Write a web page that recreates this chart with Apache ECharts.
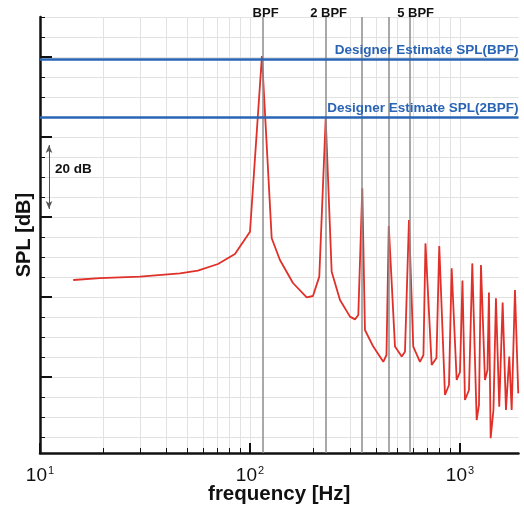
<!DOCTYPE html>
<html>
<head>
<meta charset="utf-8">
<script src="https://cdn.jsdelivr.net/npm/echarts@6/dist/echarts.min.js"></script>
<style>
  html, body { margin: 0; padding: 0; background: #fff; }
  #chart { width: 524px; height: 508px; }
</style>
</head>
<body>
<div id="chart"></div>
<script>
// spectrum: frequency [Hz] and SPL [dB]
const freqHz = [14.4, 19.3, 29.9, 46.4, 56.5, 70.4, 84.8, 100, 114, 126.9, 138.9, 160.2, 186.2, 199.5, 213.8,
  229.4, 244.9, 268.3, 299.4, 316.2, 328, 342.6, 352.8, 386.5, 431.3, 446.7, 458.1, 490.4, 527.8, 547.2,
  571.6, 599.2, 645, 670, 685, 733.3, 772.7, 796.9, 848.5, 886.5, 912.9, 964.5, 1000, 1027.8, 1056.4,
  1103.9, 1144.6, 1201, 1231.7, 1258.9, 1315.3, 1352, 1374, 1400, 1443.6, 1483.6, 1538.4, 1596.9,
  1655.8, 1717.1, 1762.9, 1827.8, 1895];
const splDb = [84.25, 84.7, 85.1, 85.9, 86.6, 88.25, 90.75, 96.3, 140.25, 94.7, 89.25, 83.5, 79.9, 80.25, 85.1,
  124.7, 86.3, 79.25, 75.1, 74.4, 75.5, 107.2, 71.75, 67.6, 63.8, 65.5, 97.75, 67.6, 65.1, 66.3,
  99.25, 67.6, 63.8, 65.5, 93.4, 63.0, 64.75, 92.75, 55.5, 58, 87.2, 59.25, 61.25, 84.1, 54.25,
  56.75, 88.4, 49.25, 53, 88, 59.25, 61.75, 81.1, 44.7, 51.75, 79.7, 52.6, 78.6, 51.75,
  65.1, 51.75, 81.75, 55.9];

const bpfHz = 114;
const harmonicOrders = [1, 2, 3, 4, 5];
const harmonicLabels = ['BPF', '2 BPF', '', '', '5 BPF'];
const designerDb = [139.5, 125];
const designerLabels = ['Designer Estimate SPL(BPF)', 'Designer Estimate SPL(2BPF)'];

const xMinHz = 10, xMaxHz = 1900;
const decadeHz = [10, 100, 1000];
const gridHz = [20, 30, 40, 50, 60, 70, 80, 90, 100, 200, 300, 400, 500, 600, 700, 800, 900, 1000];
const yMin = 41, yMax = 150;
const majorDb = [60, 80, 100, 120, 140];
const minorDb = [45, 50, 55, 60, 65, 70, 75, 80, 85, 90, 95, 100, 105, 110, 115, 120, 125, 130, 135, 140, 145, 150];

// 20 dB scale arrow
const arrowHz = 11.04;
const arrowDb = [118, 102];
const arrowTextHz = 11.16, arrowTextDb = 112;

const lg = Math.log10;
const font = '"Liberation Sans", Arial, Helvetica, sans-serif';
const ink = '#111';
const blue = '#2a64b4';
const red = '#e0302a';
const gridColor = '#e2e2e2';

const chart = echarts.init(document.getElementById('chart'));

const xBase = { type: 'value', min: lg(xMinHz), max: lg(xMaxHz), position: 'bottom' };
const yBase = { type: 'value', min: yMin, max: yMax, position: 'left' };

chart.setOption({
  animation: false,
  grid: { left: 40, right: 5.5, top: 17, bottom: 55, outerBoundsMode: 'none', containLabel: false },
  xAxis: [
    Object.assign({}, xBase, {
      axisLine: { show: true, onZero: false, lineStyle: { color: ink, width: 2.5 } },
      axisTick: { show: true, inside: true, length: 10, customValues: decadeHz.map(lg),
        lineStyle: { color: ink, width: 2 } },
      axisLabel: {
        customValues: decadeHz.map(lg),
        margin: 10,
        formatter: v => '{b|10}{s|' + Math.round(v) + '}',
        rich: {
          b: { fontSize: 19, fontFamily: font, color: ink, lineHeight: 22, verticalAlign: 'bottom' },
          s: { fontSize: 11, fontFamily: font, color: ink, lineHeight: 22, verticalAlign: 'top', padding: [2, 0, 0, 1] }
        }
      },
      splitLine: { show: false },
      name: 'frequency [Hz]',
      nameLocation: 'middle',
      nameGap: 31,
      nameMoveOverlap: false,
      nameTextStyle: { fontWeight: 'bold', fontSize: 20.5, color: ink, fontFamily: font }
    }),
    Object.assign({}, xBase, {
      axisLine: { show: false, onZero: false },
      axisTick: { show: true, inside: true, length: 5, customValues: gridHz.map(lg),
        lineStyle: { color: ink, width: 1 } },
      axisLabel: { show: false },
      splitLine: { show: true, lineStyle: { color: gridColor, width: 1 } }
    })
  ],
  yAxis: [
    Object.assign({}, yBase, {
      axisLine: { show: true, onZero: false, lineStyle: { color: ink, width: 2.5 } },
      axisTick: { show: true, inside: true, length: 12, customValues: majorDb,
        lineStyle: { color: ink, width: 2 } },
      axisLabel: { show: false },
      splitLine: { show: false },
      name: 'SPL [dB]',
      nameLocation: 'middle',
      nameGap: 5.5,
      nameMoveOverlap: false,
      nameTextStyle: { fontWeight: 'bold', fontSize: 20, color: ink, fontFamily: font }
    }),
    Object.assign({}, yBase, {
      axisLine: { show: false, onZero: false },
      axisTick: { show: true, inside: true, length: 5, customValues: minorDb,
        lineStyle: { color: ink, width: 1 } },
      axisLabel: { show: false },
      splitLine: { show: true, lineStyle: { color: gridColor, width: 1 } }
    })
  ],
  series: [
    {
      // harmonic markers
      type: 'line',
      data: [],
      z: 2,
      markLine: {
        silent: true,
        symbol: 'none',
        animation: false,
        lineStyle: { color: '#8c8c8c', width: 1.5, type: 'solid' },
        data: harmonicOrders.map((k, i) => ({
          xAxis: lg(bpfHz * k),
          label: {
            show: harmonicLabels[i] !== '',
            position: 'end',
            distance: 1,
            formatter: harmonicLabels[i],
            offset: [i === 4 ? 6 : 3, 4],
            color: ink, fontWeight: 'bold', fontSize: 13, fontFamily: font
          }
        }))
      }
    },
    {
      type: 'line',
      data: freqHz.map((f, i) => [lg(f), splDb[i]]),
      showSymbol: false,
      z: 3,
      lineStyle: { color: red, width: 1.8 }
    },
    {
      // designer estimates and the 20 dB scale
      type: 'line',
      data: [],
      z: 4,
      markLine: {
        silent: true,
        animation: false,
        symbol: 'none',
        data: designerDb.map((v, i) => ({
          yAxis: v,
          lineStyle: { color: blue, width: 2.5, type: 'solid' },
          label: {
            show: true, position: 'insideEndTop', distance: [0, 2],
            formatter: designerLabels[i],
            color: blue, fontWeight: 'bold', fontSize: 13.5, fontFamily: font
          }
        })).concat([[
          { coord: [lg(arrowHz), arrowDb[0]], symbol: 'arrow', symbolSize: [5, 8] },
          { coord: [lg(arrowHz), arrowDb[1]], symbol: 'arrow', symbolSize: [5, 8],
            lineStyle: { color: '#555', width: 1, type: 'solid' }, label: { show: false } }
        ]])
      },
      markPoint: {
        silent: true,
        animation: false,
        data: [{
          coord: [lg(arrowTextHz), arrowTextDb],
          symbol: 'circle', symbolSize: 0,
          label: { show: true, position: 'right', distance: 5, formatter: '20 dB',
            color: ink, fontWeight: 'bold', fontSize: 13.5, fontFamily: font }
        }]
      }
    }
  ]
});
</script>
</body>
</html>
